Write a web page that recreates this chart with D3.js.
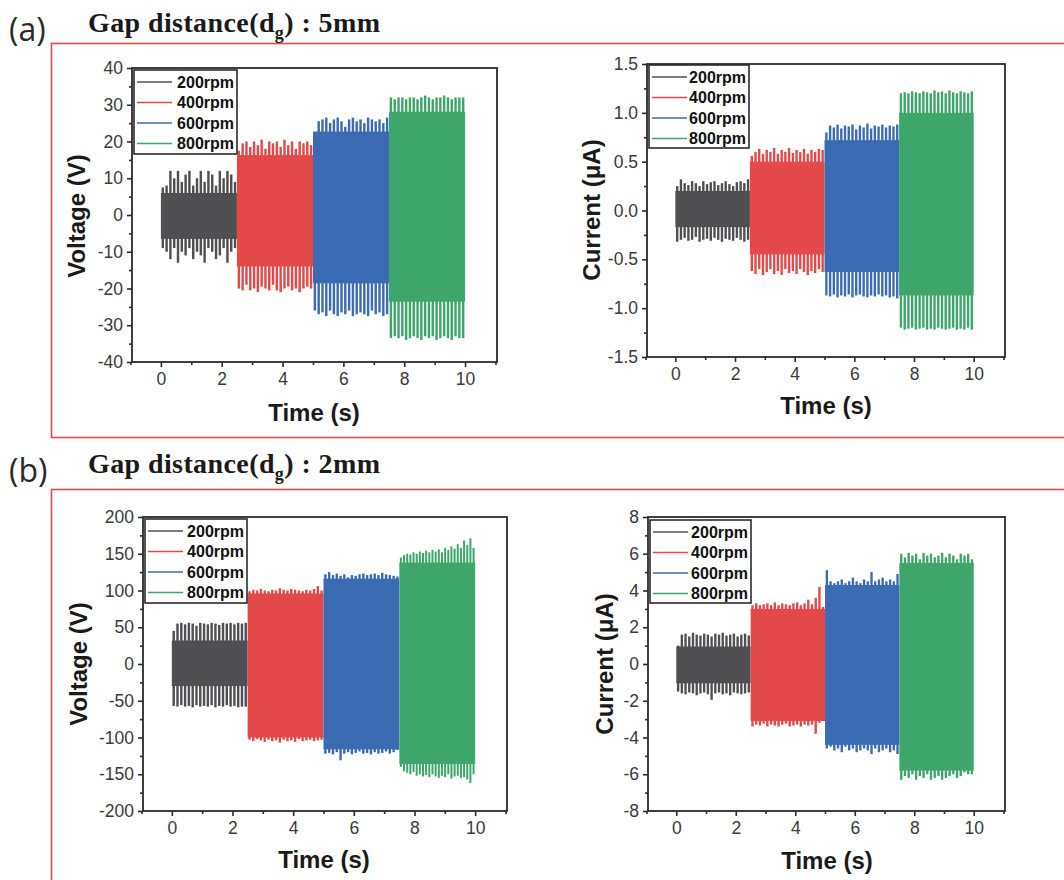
<!DOCTYPE html>
<html><head><meta charset="utf-8">
<script src="https://cdn.jsdelivr.net/npm/d3@7/dist/d3.min.js"></script>
<style>body{margin:0;background:#fff}svg{display:block}</style>
</head><body>
<svg id="c" width="1064" height="880"></svg>
<script>
// ---------- shared data ----------
const series = ["200rpm", "400rpm", "600rpm", "800rpm"];
const segStart = [0, 2.5, 5, 7.5];
const segEnd = [2.5, 5, 7.5, 10];
const xTicks = [0, 2, 4, 6, 8, 10];
const xMinor = [-1, 1, 3, 5, 7, 9, 11];
const colors = ["#505052", "#e34949", "#3b6bb3", "#3fa66b"];

// ---------- (a) 5 mm : voltage ----------
const vA_yTicks = [-40, -30, -20, -10, 0, 10, 20, 30, 40];
const vA_innerTop = [6, 16.3, 22.7, 28.1];
const vA_innerBot = [-6.5, -14, -18.6, -23.6];
const vA_peakTop = [
  [7.5, 8, 12, 10, 12, 9, 11, 12, 8, 10, 12, 9, 12, 11, 8, 12, 10, 12, 11, 9],
  [17.5, 19.5, 20, 18.5, 20, 19, 20.5, 18, 20, 19.5, 20, 18.5, 20.5, 19, 20, 18, 20, 19.5, 20, 19],
  [22.5, 25.5, 26, 26.5, 25, 26, 26.5, 25.5, 24, 26, 26.5, 25.5, 26, 25, 26.5, 26, 25.5, 26, 25, 26.5],
  [32, 31.5, 32, 32, 31.5, 32, 32, 31.5, 32, 32.5, 32, 31.5, 32, 32, 32.5, 32, 31.5, 32, 32, 32]
];
const vA_peakBot = [
  [-9, -10, -12, -9, -13, -10, -11, -9, -12, -10, -11, -13, -9, -10, -12, -11, -9, -13, -10, -9],
  [-20, -20.5, -19, -20.5, -20, -21, -19.5, -20, -20.5, -19, -20.5, -21, -20, -19.5, -20.5, -20, -21, -20, -19.5, -20],
  [-26, -27, -26.5, -27.5, -26, -27, -27.5, -26.5, -27, -26, -27.5, -27, -26.5, -27, -27.5, -26, -27, -26.5, -27.5, -27],
  [-33.5, -33, -33.5, -33, -34, -33.5, -33, -33.5, -34, -33, -33.5, -33, -34, -33.5, -33, -33.5, -34, -33, -33.5, -33.5]
];

// ---------- (a) 5 mm : current ----------
const iA_yTicks = [-1.5, -1.0, -0.5, 0, 0.5, 1.0, 1.5];
const iA_innerTop = [0.2, 0.5, 0.72, 1.0];
const iA_innerBot = [-0.17, -0.45, -0.63, -0.87];
const iA_peakTop = [
  [0.25, 0.32, 0.28, 0.26, 0.3, 0.28, 0.25, 0.3, 0.27, 0.29, 0.3, 0.26, 0.28, 0.3, 0.27, 0.25, 0.29, 0.3, 0.28, 0.32],
  [0.56, 0.6, 0.63, 0.58, 0.62, 0.6, 0.64, 0.58, 0.62, 0.6, 0.64, 0.59, 0.62, 0.6, 0.63, 0.58, 0.62, 0.6, 0.63, 0.62],
  [0.8, 0.87, 0.85, 0.88, 0.84, 0.87, 0.86, 0.88, 0.83, 0.87, 0.85, 0.89, 0.84, 0.87, 0.86, 0.88, 0.85, 0.87, 0.86, 0.88],
  [1.2, 1.21, 1.2, 1.22, 1.21, 1.2, 1.22, 1.21, 1.2, 1.23, 1.21, 1.22, 1.2, 1.23, 1.21, 1.2, 1.22, 1.21, 1.2, 1.22]
];
const iA_peakBot = [
  [-0.32, -0.3, -0.28, -0.31, -0.3, -0.27, -0.32, -0.3, -0.29, -0.31, -0.28, -0.3, -0.32, -0.29, -0.3, -0.31, -0.28, -0.3, -0.32, -0.3],
  [-0.62, -0.65, -0.6, -0.66, -0.63, -0.6, -0.65, -0.62, -0.66, -0.6, -0.64, -0.62, -0.65, -0.6, -0.63, -0.66, -0.62, -0.64, -0.6, -0.63],
  [-0.87, -0.88, -0.86, -0.89, -0.87, -0.88, -0.86, -0.89, -0.87, -0.86, -0.88, -0.89, -0.87, -0.88, -0.86, -0.88, -0.87, -0.89, -0.88, -0.9],
  [-1.2, -1.22, -1.21, -1.2, -1.22, -1.21, -1.2, -1.22, -1.21, -1.22, -1.2, -1.21, -1.22, -1.21, -1.2, -1.22, -1.21, -1.22, -1.2, -1.22]
];

// ---------- (b) 2 mm : voltage ----------
const vB_yTicks = [-200, -150, -100, -50, 0, 50, 100, 150, 200];
const vB_innerTop = [32, 96, 116, 138];
const vB_innerBot = [-30, -100, -116, -136];
const vB_peakTop = [
  [45, 55, 56, 54, 56, 55, 52, 56, 55, 54, 56, 55, 53, 56, 55, 56, 54, 56, 55, 56],
  [99, 101, 100, 102, 100, 99, 101, 100, 103, 101, 100, 102, 101, 100, 99, 101, 100, 102, 106, 100],
  [122, 125, 121, 123, 120, 122, 118, 121, 120, 122, 123, 121, 122, 123, 121, 124, 122, 121, 120, 119],
  [145, 148, 150, 149, 152, 150, 153, 151, 154, 152, 155, 153, 156, 152, 158, 155, 160, 157, 163, 158, 168, 162, 171, 158]
];
const vB_peakBot = [
  [-57, -58, -56, -58, -57, -59, -56, -58, -57, -58, -56, -59, -57, -58, -56, -58, -57, -59, -58, -58],
  [-103, -105, -102, -104, -106, -103, -105, -104, -107, -103, -105, -104, -106, -102, -105, -104, -103, -105, -104, -103],
  [-122, -121, -123, -120, -131, -122, -120, -123, -121, -119, -122, -121, -123, -120, -122, -121, -119, -122, -120, -117],
  [-140, -146, -148, -150, -147, -152, -150, -153, -151, -154, -150, -153, -155, -152, -154, -150, -156, -153, -152, -155, -154, -157, -162, -150]
];

// ---------- (b) 2 mm : current ----------
const iB_yTicks = [-8, -6, -4, -2, 0, 2, 4, 6, 8];
const iB_innerTop = [0.95, 3.0, 4.3, 5.5];
const iB_innerBot = [-1.05, -3.1, -4.4, -5.8];
const iB_peakTop = [
  [1.0, 1.6, 1.65, 1.5, 1.7, 1.6, 1.55, 1.65, 1.6, 1.5, 1.65, 1.6, 1.7, 1.55, 1.6, 1.65, 1.5, 1.6, 1.65, 1.55],
  [3.2, 3.3, 3.2, 3.25, 3.3, 3.2, 3.35, 3.2, 3.3, 3.25, 3.2, 3.3, 3.35, 3.2, 3.3, 3.5, 3.25, 3.6, 4.2, 3.1],
  [5.1, 4.5, 4.4, 4.5, 4.6, 4.4, 4.5, 4.7, 4.5, 4.4, 4.6, 4.5, 5.0, 4.5, 4.6, 4.7, 4.5, 4.6, 4.5, 4.9],
  [6.0, 5.8, 6.05, 5.9, 6.0, 5.7, 6.05, 5.9, 6.0, 5.8, 5.9, 6.05, 5.8, 6.0, 5.9, 5.7, 6.0, 5.9, 6.0, 5.7]
];
const iB_peakBot = [
  [-1.5, -1.6, -1.65, -1.55, -1.6, -1.7, -1.6, -1.55, -1.65, -1.95, -1.6, -1.55, -1.65, -1.6, -1.7, -1.55, -1.6, -1.65, -1.6, -1.55],
  [-3.4, -3.3, -3.35, -3.25, -3.4, -3.3, -3.35, -3.4, -3.3, -3.25, -3.4, -3.35, -3.3, -3.4, -3.3, -3.35, -3.3, -3.8, -3.2, -3.1],
  [-4.6, -4.5, -4.7, -4.6, -4.8, -4.5, -4.7, -4.6, -4.8, -4.7, -4.6, -4.7, -4.9, -4.6, -4.8, -4.7, -4.6, -4.8, -4.7, -4.9],
  [-6.3, -6.1, -6.2, -6.0, -6.3, -6.1, -6.2, -6.0, -6.3, -6.2, -6.1, -6.3, -6.2, -6.1, -6.0, -6.2, -6.1, -5.9, -6.0, -6.0]
];

// ---------- layout ----------
const fmtInt = d => String(d);
const fmt1 = d => (d < 0 ? "-" : "") + Math.abs(d).toFixed(1);

const panels = [
  { fx0: 132, fx1: 497, fy0: 68, fy1: 362, yDomain: [-40, 40], yTicks: vA_yTicks, minorStep: 5, fmt: fmtInt,
    ylabel: "Voltage (V)", ylx: 85, yly: 216, xlx: 314, xly: 421,
    lg: { x: 134, y: 70, w: 103, h: 84 },
    innerTop: vA_innerTop, innerBot: vA_innerBot, peakTop: vA_peakTop, peakBot: vA_peakBot },
  { fx0: 647, fx1: 1005, fy0: 64, fy1: 357, yDomain: [-1.5, 1.5], yTicks: iA_yTicks, minorStep: 0.25, fmt: fmt1,
    ylabel: "Current (\u03bcA)", ylx: 600, yly: 210, xlx: 826, xly: 414,
    lg: { x: 649, y: 65, w: 100, h: 83 },
    innerTop: iA_innerTop, innerBot: iA_innerBot, peakTop: iA_peakTop, peakBot: iA_peakBot },
  { fx0: 143, fx1: 507, fy0: 517, fy1: 811, yDomain: [-200, 200], yTicks: vB_yTicks, minorStep: 25, fmt: fmtInt,
    ylabel: "Voltage (V)", ylx: 87, yly: 664, xlx: 324, xly: 868,
    lg: { x: 145, y: 519, w: 102, h: 84 },
    innerTop: vB_innerTop, innerBot: vB_innerBot, peakTop: vB_peakTop, peakBot: vB_peakBot },
  { fx0: 648, fx1: 1005, fy0: 517, fy1: 811, yDomain: [-8, 8], yTicks: iB_yTicks, minorStep: 1, fmt: fmtInt,
    ylabel: "Current (\u03bcA)", ylx: 613, yly: 664, xlx: 827, xly: 869,
    lg: { x: 650, y: 520, w: 101, h: 83 },
    innerTop: iB_innerTop, innerBot: iB_innerBot, peakTop: iB_peakTop, peakBot: iB_peakBot }
];

const svg = d3.select("#c");
svg.append("rect").attr("width", 1064).attr("height", 880).attr("fill", "#fff");

// section frames and headings
const sections = [
  { tag: "(a)", title: "5mm", tagY: 41, titleY: 32, boxY: 43, boxH: 394 },
  { tag: "(b)", title: "2mm", tagY: 482, titleY: 473, boxY: 489, boxH: 500 }
];
sections.forEach(s => {
  svg.append("rect").attr("x", 51.5).attr("y", s.boxY + 0.5).attr("width", 1100).attr("height", s.boxH)
    .attr("fill", "none").attr("stroke", "#e5484b").attr("stroke-width", 1.6);
  svg.append("text").attr("x", 9).attr("y", s.tagY).attr("font-family", "Open Sans, sans-serif")
    .attr("font-size", 32).attr("fill", "#2a2a2a").text(s.tag);
  const t = svg.append("text").attr("x", 88).attr("y", s.titleY)
    .attr("font-family", "Liberation Serif, Times New Roman, serif").attr("font-weight", "bold")
    .attr("font-size", 28).attr("letter-spacing", 0.4).attr("fill", "#1a1a1a");
  t.append("tspan").text("Gap distance(d");
  t.append("tspan").attr("font-size", 18).attr("dy", 7).text("g");
  t.append("tspan").attr("dy", -7).text(") : " + s.title);
});

panels.forEach(p => {
  const x = d3.scaleLinear().domain([-0.95, 11.05]).range([p.fx0, p.fx1]);
  const y = d3.scaleLinear().domain(p.yDomain).range([p.fy1, p.fy0]);
  const g = svg.append("g");

  // signal blocks
  series.forEach((s, i) => {
    const xa = x(segStart[i]), xb = x(segEnd[i]);
    g.append("rect").attr("x", xa).attr("width", xb - xa)
      .attr("y", y(p.innerTop[i])).attr("height", y(p.innerBot[i]) - y(p.innerTop[i]))
      .attr("fill", colors[i]);
    const drawTeeth = (arr, base, up) => {
      const w = (xb - xa) / arr.length;
      g.selectAll(null).data(arr).enter().append("rect")
        .attr("x", (d, k) => xa + k * w + w * 0.18)
        .attr("width", w * 0.64)
        .attr("y", d => up ? y(d) : y(base) - 1)
        .attr("height", d => Math.abs(y(d) - y(base)) + 1)
        .attr("fill", colors[i]);
    };
    drawTeeth(p.peakTop[i], p.innerTop[i], true);
    drawTeeth(p.peakBot[i], p.innerBot[i], false);
  });

  // axes
  const minor = d3.range(p.yDomain[0], p.yDomain[1] + p.minorStep / 2, p.minorStep)
    .filter(v => !p.yTicks.some(t => Math.abs(t - v) < 1e-9));
  const styleAxis = sel => {
    sel.select(".domain").remove();
    sel.selectAll("line").attr("stroke", "#2b2b2b").attr("stroke-width", 1.6);
    sel.selectAll("text").attr("font-family", "Liberation Sans, Arial, sans-serif")
      .attr("font-size", 17.5).attr("fill", "#3a3a3a");
  };
  g.append("g").attr("transform", `translate(0,${p.fy1})`)
    .call(d3.axisBottom(x).tickValues(xTicks).tickSize(5).tickPadding(6).tickFormat(fmtInt)).call(styleAxis);
  g.append("g").attr("transform", `translate(0,${p.fy1})`)
    .call(d3.axisBottom(x).tickValues(xMinor).tickSize(3).tickFormat("")).call(styleAxis);
  g.append("g").attr("transform", `translate(${p.fx0},0)`)
    .call(d3.axisLeft(y).tickValues(p.yTicks).tickSize(5).tickPadding(4).tickFormat(p.fmt)).call(styleAxis);
  g.append("g").attr("transform", `translate(${p.fx0},0)`)
    .call(d3.axisLeft(y).tickValues(minor).tickSize(3).tickFormat("")).call(styleAxis);

  g.append("rect").attr("x", p.fx0).attr("y", p.fy0).attr("width", p.fx1 - p.fx0).attr("height", p.fy1 - p.fy0)
    .attr("fill", "none").attr("stroke", "#2b2b2b").attr("stroke-width", 1.8);

  // axis titles
  g.append("text").attr("transform", `translate(${p.ylx},${p.yly}) rotate(-90)`).attr("text-anchor", "middle")
    .attr("font-family", "Liberation Sans, Arial, sans-serif").attr("font-weight", "bold").attr("font-size", 24)
    .attr("fill", "#1a1a1a").text(p.ylabel);
  g.append("text").attr("x", p.xlx).attr("y", p.xly).attr("text-anchor", "middle")
    .attr("font-family", "Liberation Sans, Arial, sans-serif").attr("font-weight", "bold").attr("font-size", 24)
    .attr("fill", "#1a1a1a").text("Time (s)");

  // legend
  const L = p.lg;
  const lg = g.append("g");
  lg.append("rect").attr("x", L.x).attr("y", L.y).attr("width", L.w).attr("height", L.h)
    .attr("fill", "#fff").attr("stroke", "#2b2b2b").attr("stroke-width", 1.6);
  series.forEach((s, i) => {
    const cy = L.y + 12 + i * 20.5;
    lg.append("line").attr("x1", L.x + 3).attr("x2", L.x + 38).attr("y1", cy).attr("y2", cy)
      .attr("stroke", colors[i]).attr("stroke-width", 1.6);
    lg.append("text").attr("x", L.x + L.w - 3).attr("y", cy + 5.5).attr("text-anchor", "end")
      .attr("font-family", "Liberation Sans, Arial, sans-serif").attr("font-weight", "bold").attr("font-size", 16)
      .attr("fill", "#111").text(s);
  });
});
</script>
</body></html>
